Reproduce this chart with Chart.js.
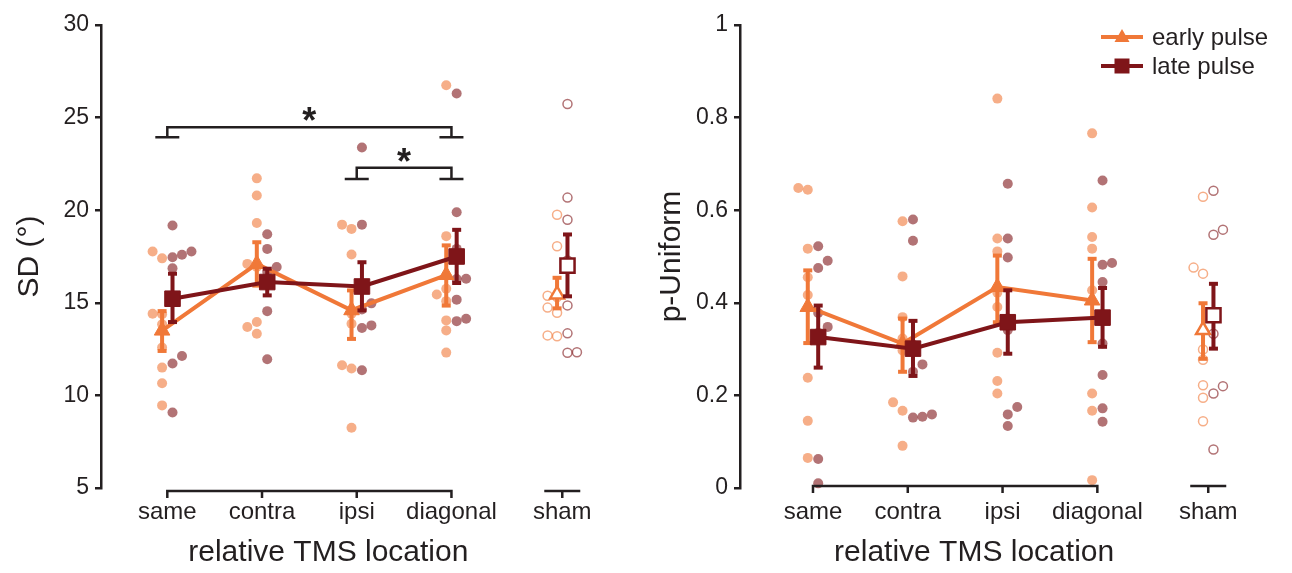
<!DOCTYPE html>
<html>
<head>
<meta charset="utf-8">
<script src="https://cdn.jsdelivr.net/npm/chart.js@4.4.1/dist/chart.umd.min.js"></script>
<style>
  html, body { margin: 0; padding: 0; background: #fff; }
  #left { position: absolute; left: 0; top: 0; width: 640px; height: 573px; }
  #right { position: absolute; left: 640px; top: 0; width: 652px; height: 573px; }
</style>
</head>
<body>
<div id="left"><canvas id="sd"></canvas></div>
<div id="right"><canvas id="pu"></canvas></div>
<script>
// categories and their place on the x axis (sham sits apart)
const categories = ['same', 'contra', 'ipsi', 'diagonal', 'sham'];
const catPos = [1, 2, 3, 4, 5.17];

// SD panel - group means and error bars
const sdEarlyMean = [13.5, 17.1, 14.6, 16.5, 15.45];
const sdEarlyLo = [12.4, 15.93, 13.05, 14.85, 14.7];
const sdEarlyHi = [14.55, 18.27, 15.67, 18.1, 16.35];
const sdLateMean = [15.22, 16.12, 15.88, 17.5, 17.01];
const sdLateLo = [13.96, 15.4, 14.59, 16.07, 15.35];
const sdLateHi = [16.57, 16.84, 17.19, 18.94, 18.69];

// SD panel - single subjects
const sdEarlyDots = [
  [17.4, 17.77, 14.41, 14.38, 13.84, 12.58, 11.5, 10.66, 9.46],
  [21.72, 20.79, 19.31, 17.1, 16.93, 13.96, 13.69, 13.33],
  [19.22, 18.99, 17.61, 14.41, 13.87, 11.63, 11.45, 8.25],
  [26.75, 18.6, 15.76, 15.45, 15.09, 14.05, 13.51, 12.31],
  [19.75, 18.05, 15.38, 15.31, 14.74, 14.46, 13.24, 13.19]
];
const sdLateDots = [
  [19.17, 17.77, 17.59, 17.46, 16.87, 12.13, 11.72, 9.08],
  [18.7, 17.91, 16.93, 16.66, 16.07, 14.55, 11.95],
  [23.39, 19.22, 16.03, 14.97, 14.64, 13.78, 13.64, 11.36],
  [26.3, 19.89, 17.91, 16.3, 16.28, 15.17, 14.14, 14.01],
  [25.73, 20.68, 19.48, 17.28, 14.86, 13.35, 12.33, 12.3]
];

// p-Uniform panel - group means and error bars
const puEarlyMean = [0.391, 0.312, 0.434, 0.405, 0.341];
const puEarlyLo = [0.313, 0.251, 0.358, 0.315, 0.279];
const puEarlyHi = [0.470, 0.366, 0.502, 0.495, 0.399];
const puLateMean = [0.326, 0.301, 0.358, 0.368, 0.373];
const puLateLo = [0.26, 0.242, 0.29, 0.305, 0.301];
const puLateHi = [0.394, 0.361, 0.427, 0.432, 0.441];

const puEarlyDots = [
  [0.648, 0.644, 0.517, 0.455, 0.417, 0.238, 0.145, 0.065],
  [0.576, 0.457, 0.369, 0.323, 0.297, 0.185, 0.167, 0.091],
  [0.841, 0.539, 0.511, 0.422, 0.391, 0.292, 0.231, 0.204],
  [0.766, 0.606, 0.542, 0.517, 0.427, 0.204, 0.167, 0.017],
  [0.629, 0.476, 0.463, 0.299, 0.277, 0.222, 0.195, 0.144]
];
const puLateDots = [
  [0.522, 0.491, 0.475, 0.378, 0.348, 0.335, 0.0625, 0.01],
  [0.58, 0.534, 0.31, 0.267, 0.251, 0.159, 0.154, 0.152],
  [0.657, 0.539, 0.498, 0.366, 0.341, 0.175, 0.159, 0.134],
  [0.664, 0.486, 0.482, 0.445, 0.312, 0.244, 0.172, 0.143],
  [0.642, 0.558, 0.547, 0.38, 0.333, 0.22, 0.204, 0.083]
];

// significance brackets on the SD panel
const sigFrom = [1, 3];
const sigTo = [4, 4];
const sigTop = [24.48, 22.29];
const sigFoot = [23.94, 21.68];
const sigStar = [25.0, 22.76];

const ink = '#231F20';
const early = '#F07838';
const late = '#7F1519';
const earlyDot = 'rgba(240,120,56,0.6)';
const lateDot = 'rgba(127,21,25,0.6)';
const FONT = "'Liberation Sans', Arial, Helvetica, sans-serif";
const shift = 0.055;

// place overlapping dots side by side, away from the mean
function swarm(groups, idx, off, dir, pxPerUnit) {
  const pts = [];
  idx.forEach(i => {
    const placed = [];
    groups[i].slice().sort((a, b) => a - b).forEach(v => {
      let k = 0;
      while (placed.some(p => p.k === k && Math.abs(p.v - v) * pxPerUnit < 9)) k++;
      placed.push({ v, k });
      pts.push({ x: catPos[i] + off + dir * k * 0.1, y: v });
    });
  });
  return pts;
}

function stems(lo, hi, off) {
  const pts = [];
  lo.forEach((v, i) => {
    pts.push({ x: catPos[i] + off, y: v }, { x: catPos[i] + off, y: hi[i] }, { x: catPos[i] + off, y: null });
  });
  return pts;
}

function caps(lo, hi, off) {
  const pts = [];
  lo.forEach((v, i) => pts.push({ x: catPos[i] + off, y: v }, { x: catPos[i] + off, y: hi[i] }));
  return pts;
}

function buildDatasets(d, pxPerUnit) {
  const main = [0, 1, 2, 3];
  const list = [
    { type: 'scatter', data: swarm(d.eDots, main, -shift, -1, pxPerUnit), pointRadius: 5, pointBackgroundColor: earlyDot, pointBorderWidth: 0 },
    { type: 'scatter', data: swarm(d.lDots, main, shift, 1, pxPerUnit), pointRadius: 5, pointBackgroundColor: lateDot, pointBorderWidth: 0 },
    { type: 'scatter', data: swarm(d.eDots, [4], -shift, -1, pxPerUnit), pointRadius: 4.5, pointBackgroundColor: 'rgba(0,0,0,0)', pointBorderColor: earlyDot, pointBorderWidth: 1.5 },
    { type: 'scatter', data: swarm(d.lDots, [4], shift, 1, pxPerUnit), pointRadius: 4.5, pointBackgroundColor: 'rgba(0,0,0,0)', pointBorderColor: lateDot, pointBorderWidth: 1.5 },
    { type: 'line', data: stems(d.eLo, d.eHi, -shift), borderColor: early, borderWidth: 4, pointRadius: 0, spanGaps: false },
    { type: 'scatter', data: caps(d.eLo, d.eHi, -shift), pointStyle: 'line', pointRadius: 4.5, pointBorderWidth: 4, pointBorderColor: early },
    { type: 'line', data: main.map(i => ({ x: catPos[i] - shift, y: d.eMean[i] })), borderColor: early, borderWidth: 4,
      pointStyle: 'triangle', pointRadius: 9, pointBackgroundColor: early, pointBorderColor: early, pointBorderWidth: 1 },
    { type: 'scatter', data: [{ x: catPos[4] - shift, y: d.eMean[4] }], pointStyle: 'triangle', pointRadius: 8,
      pointBackgroundColor: '#fff', pointBorderColor: early, pointBorderWidth: 2.5 },
    { type: 'line', data: stems(d.lLo, d.lHi, shift), borderColor: late, borderWidth: 4, pointRadius: 0, spanGaps: false },
    { type: 'scatter', data: caps(d.lLo, d.lHi, shift), pointStyle: 'line', pointRadius: 4.5, pointBorderWidth: 4, pointBorderColor: late },
    { type: 'line', data: main.map(i => ({ x: catPos[i] + shift, y: d.lMean[i] })), borderColor: late, borderWidth: 4,
      pointStyle: 'rect', pointRadius: 11, pointBackgroundColor: late, pointBorderColor: late, pointBorderWidth: 1 },
    { type: 'scatter', data: [{ x: catPos[4] + shift, y: d.lMean[4] }], pointStyle: 'rect', pointRadius: 10,
      pointBackgroundColor: '#fff', pointBorderColor: late, pointBorderWidth: 2.5 }
  ];
  // first in list is drawn first (lowest)
  list.forEach((ds, i) => { ds.order = list.length - i; ds.clip = false; ds.tension = 0; });
  return list;
}

function decor(cfg) {
  return {
    id: 'decor',
    afterDraw(chart) {
      const ctx = chart.ctx, xs = chart.scales.x, ys = chart.scales.y, a = chart.chartArea;
      ctx.save();
      ctx.strokeStyle = ink;
      ctx.fillStyle = ink;
      ctx.lineWidth = 2.5;
      // offset x axis: four locations, then sham on its own
      const ay = a.bottom + cfg.axisGap;
      ctx.beginPath();
      ctx.moveTo(xs.getPixelForValue(catPos[0]), ay + 7);
      ctx.lineTo(xs.getPixelForValue(catPos[0]), ay);
      ctx.lineTo(xs.getPixelForValue(catPos[3]), ay);
      ctx.lineTo(xs.getPixelForValue(catPos[3]), ay + 7);
      [1, 2].forEach(i => {
        ctx.moveTo(xs.getPixelForValue(catPos[i]), ay);
        ctx.lineTo(xs.getPixelForValue(catPos[i]), ay + 7);
      });
      ctx.moveTo(xs.getPixelForValue(catPos[4] - 0.19), ay);
      ctx.lineTo(xs.getPixelForValue(catPos[4] + 0.19), ay);
      ctx.moveTo(xs.getPixelForValue(catPos[4]), ay);
      ctx.lineTo(xs.getPixelForValue(catPos[4]), ay + 7);
      ctx.stroke();

      // axis titles
      ctx.font = '30px ' + FONT;
      ctx.textAlign = 'center';
      ctx.textBaseline = 'middle';
      ctx.fillText('relative TMS location', xs.getPixelForValue(2.7), 553);
      ctx.save();
      ctx.translate(cfg.yTitleX, (a.top + a.bottom) / 2);
      ctx.rotate(-Math.PI / 2);
      ctx.fillText(cfg.yTitle, 0, 0);
      ctx.restore();

      if (cfg.brackets) {
        ctx.lineWidth = 2.5;
        sigFrom.forEach((f, i) => {
          const x1 = xs.getPixelForValue(f), x2 = xs.getPixelForValue(sigTo[i]);
          const yt = ys.getPixelForValue(sigTop[i]), yf = ys.getPixelForValue(sigFoot[i]);
          ctx.beginPath();
          ctx.moveTo(x1, yf); ctx.lineTo(x1, yt); ctx.lineTo(x2, yt); ctx.lineTo(x2, yf);
          ctx.moveTo(x1 - 12, yf); ctx.lineTo(x1 + 12, yf);
          ctx.moveTo(x2 - 12, yf); ctx.lineTo(x2 + 12, yf);
          ctx.stroke();
          ctx.font = 'bold 36px ' + FONT;
          ctx.textBaseline = 'alphabetic';
          ctx.fillText('*', (x1 + x2) / 2, ys.getPixelForValue(sigStar[i]) + 15);
        });
      }

      if (cfg.legend) {
        const rows = [['early pulse', early, 'triangle'], ['late pulse', late, 'rect']];
        rows.forEach((r, i) => {
          const y = 37 + i * 29;
          const lx = a.right - 148;
          ctx.strokeStyle = r[1];
          ctx.fillStyle = r[1];
          ctx.lineWidth = 4;
          ctx.beginPath();
          ctx.moveTo(lx, y); ctx.lineTo(lx + 42, y);
          ctx.stroke();
          const mx = lx + 21;
          ctx.beginPath();
          if (r[2] === 'triangle') {
            ctx.moveTo(mx, y - 8); ctx.lineTo(mx + 7.5, y + 5); ctx.lineTo(mx - 7.5, y + 5);
          } else {
            ctx.rect(mx - 7.5, y - 7.5, 15, 15);
          }
          ctx.closePath();
          ctx.fill();
          ctx.fillStyle = ink;
          ctx.font = '24px ' + FONT;
          ctx.textAlign = 'left';
          ctx.textBaseline = 'middle';
          ctx.fillText(r[0], lx + 51, y + 1);
        });
      }
      ctx.restore();
    }
  };
}

function makeChart(id, d, opt) {
  const pxPerUnit = 463 / (opt.yMax - opt.yMin);
  return new Chart(document.getElementById(id), {
    data: { datasets: buildDatasets(d, pxPerUnit) },
    options: {
      responsive: true,
      maintainAspectRatio: false,
      animation: false,
      events: [],
      layout: { padding: { top: 25, right: opt.padRight, left: 0, bottom: 0 } },
      plugins: { legend: { display: false }, tooltip: { enabled: false } },
      scales: {
        x: {
          type: 'linear',
          min: opt.xMin,
          max: 5.6,
          afterBuildTicks: s => { s.ticks = catPos.map(v => ({ value: v })); },
          afterFit: s => { s.height = 85; },
          grid: { display: false, drawTicks: false },
          border: { display: false },
          ticks: {
            autoSkip: false, maxRotation: 0, padding: 10, color: ink,
            font: { family: FONT, size: 24 },
            callback: (v, i) => categories[i]
          }
        },
        y: {
          min: opt.yMin,
          max: opt.yMax,
          afterFit: s => { s.width = opt.yWidth; },
          border: { display: true, color: ink, width: 2.5 },
          grid: { display: true, drawOnChartArea: false, drawTicks: true, tickLength: 6, color: ink, lineWidth: 2.5 },
          ticks: {
            stepSize: opt.step, padding: 6, color: ink,
            font: { family: FONT, size: 23 },
            callback: v => String(+v.toFixed(1))
          }
        }
      }
    },
    plugins: [decor(opt)]
  });
}

makeChart('sd', {
  eMean: sdEarlyMean, eLo: sdEarlyLo, eHi: sdEarlyHi, eDots: sdEarlyDots,
  lMean: sdLateMean, lLo: sdLateLo, lHi: sdLateHi, lDots: sdLateDots
}, { yMin: 5, yMax: 30, step: 5, xMin: 0.3, yWidth: 101, padRight: 37, axisGap: 3,
     yTitle: 'SD (°)', yTitleX: 30, brackets: true, legend: false });

makeChart('pu', {
  eMean: puEarlyMean, eLo: puEarlyLo, eHi: puEarlyHi, eDots: puEarlyDots,
  lMean: puLateMean, lLo: puLateLo, lHi: puLateHi, lDots: puLateDots
}, { yMin: 0, yMax: 1, step: 0.2, xMin: 0.23, yWidth: 100, padRight: 43, axisGap: -2,
     yTitle: 'p-Uniform', yTitleX: 32, brackets: false, legend: true });
</script>
</body>
</html>
